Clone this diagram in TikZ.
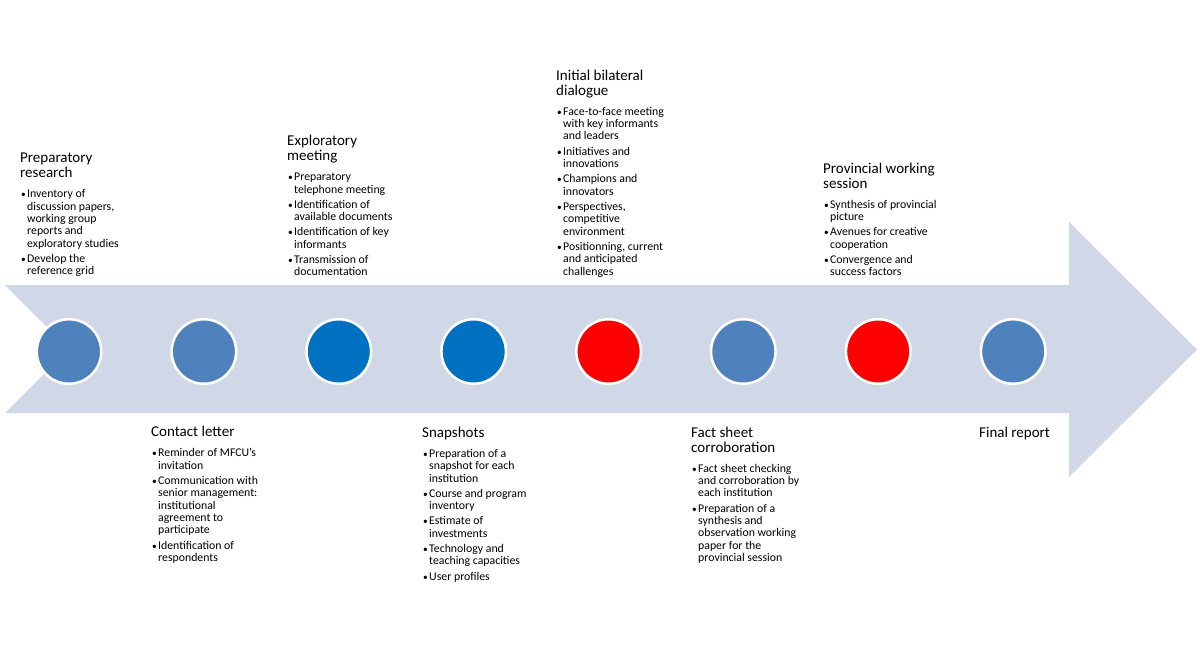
\documentclass[tikz,border=0pt]{standalone}
\usepackage{fontspec}
\setmainfont{Carlito}
\definecolor{arrowfill}{HTML}{D0D8E8}
\definecolor{cblue}{HTML}{4F81BD}
\definecolor{cdark}{HTML}{0070C0}
\definecolor{cred}{HTML}{FF0000}
\newcommand\stagetext[2]{\vtop{\hsize=200pt\parindent=0pt\parskip=0pt\leftskip=0pt\rightskip=0pt plus 1fil
{\fontsize{15}{15}\selectfont #1\par}%
\fontsize{11.8}{12.4}\selectfont\vskip 4.8pt #2\par}}
\newcommand\bul[1]{\par\vskip2.8pt\hangindent=7pt\hangafter=1\noindent\hbox to 7pt{\hskip0.8pt\scalebox{0.8}{\textbullet}\hss}#1}
\tikzset{
  circ/.style={circle, minimum size=64.5pt, inner sep=0pt, draw=white, line width=2.5pt},
  stage/.style={inner sep=0pt, anchor=base west, text=black}
}
\begin{document}
\begin{tikzpicture}[x=1pt,y=-1pt]
\useasboundingbox[fill=white] (0,0) rectangle (1200,651);
% big arrow
\fill[arrowfill] (5,285) -- (1069,285) -- (1069,222) -- (1197,349.5) -- (1069,477) -- (1069,413) -- (5,413) -- (69,349) -- cycle;
% circles
\node[circ, fill=cblue] (c1) at (69,351.5) {};
\node[circ, fill=cblue] (c2) at (203.9,351.5) {};
\node[circ, fill=cdark] (c3) at (338.8,351.5) {};
\node[circ, fill=cdark] (c4) at (473.7,351.5) {};
\node[circ, fill=cred]  (c5) at (608.6,351.5) {};
\node[circ, fill=cblue] (c6) at (743.3,351.5) {};
\node[circ, fill=cred]  (c7) at (878.2,351.5) {};
\node[circ, fill=cblue] (c8) at (1013.2,351.5) {};
% texts above
\node[stage] (s1) at (20,162.7) {\stagetext{Preparatory\newline research}{%
  \bul{Inventory of\newline discussion papers,\newline working group\newline reports and\newline exploratory studies}%
  \bul{Develop the\newline reference grid}}};
\node[stage] (s3) at (287,145.7) {\stagetext{Exploratory\newline meeting}{%
  \bul{Preparatory\newline telephone meeting}%
  \bul{Identification of\newline available documents}%
  \bul{Identification of key\newline informants}%
  \bul{Transmission of\newline documentation}}};
\node[stage] (s5) at (556,80) {\stagetext{Initial bilateral\newline dialogue}{%
  \bul{Face-to-face meeting\newline with key informants\newline and leaders}%
  \bul{Initiatives and\newline innovations}%
  \bul{Champions and\newline innovators}%
  \bul{Perspectives,\newline competitive\newline environment}%
  \bul{Positionning, current\newline and anticipated\newline challenges}}};
\node[stage] (s7) at (823,173.3) {\stagetext{Provincial working\newline session}{%
  \bul{Synthesis of provincial\newline picture}%
  \bul{Avenues for creative\newline cooperation}%
  \bul{Convergence and\newline success factors}}};
% texts below
\node[stage] (s2) at (151,436.7) {\stagetext{Contact letter}{%
  \bul{Reminder of MFCU's\newline invitation}%
  \bul{Communication with\newline senior management:\newline institutional\newline agreement to\newline participate}%
  \bul{Identification of\newline respondents}}};
\node[stage] (s4) at (422,437.3) {\stagetext{Snapshots}{%
  \bul{Preparation of a\newline snapshot for each\newline institution}%
  \bul{Course and program\newline inventory}%
  \bul{Estimate of\newline investments}%
  \bul{Technology and\newline teaching capacities}%
  \bul{User profiles}}};
\node[stage] (s6) at (691,437) {\stagetext{Fact sheet\newline corroboration}{%
  \bul{Fact sheet checking\newline and corroboration by\newline each institution}%
  \bul{Preparation of a\newline synthesis and\newline observation working\newline paper for the\newline provincial session}}};
\node[stage] (s8) at (979,437) {\fontsize{15}{15}\selectfont Final report};
\end{tikzpicture}
\end{document}
